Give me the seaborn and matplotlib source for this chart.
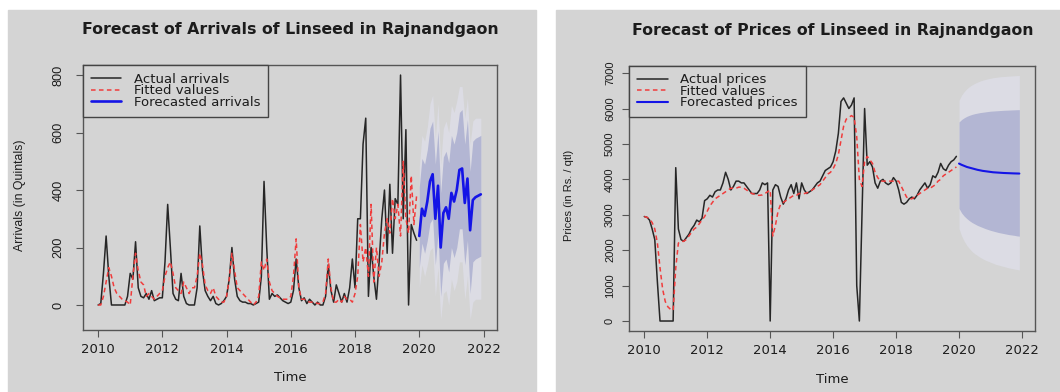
import numpy as np
import matplotlib
matplotlib.use("Agg")
import matplotlib.pyplot as plt
from matplotlib.patches import Rectangle
import seaborn as sns

# ---------------- data ----------------
# monthly series, Jan 2010 .. Dec 2019
start_year = 2010
forecast_start = 2020

arrivals_actual = [
    0, 5, 110, 240, 100, 0, 0, 0, 0, 0, 0, 30,
    110, 90, 220, 60, 30, 25, 40, 20, 50, 15, 20, 25,
    25, 150, 350, 200, 40, 20, 15, 110, 30, 5, 0, 0,
    0, 60, 275, 120, 50, 30, 15, 30, 5, 0, 5, 15,
    30, 90, 200, 90, 30, 15, 10, 10, 5, 5, 0, 5,
    10, 100, 430, 200, 20, 40, 30, 35, 25, 15, 10, 5,
    10, 50, 160, 60, 15, 25, 5, 20, 10, 0, 10, 0,
    0, 30, 140, 50, 10, 70, 40, 10, 40, 10, 60, 160,
    60, 300, 300, 560, 650, 30, 200, 100, 20, 150, 300, 400,
    180, 420, 180, 370, 350, 800, 300, 610, 0, 280, 250, 225,
]
arrivals_fitted = [
    0, 0, 30, 80, 130, 100, 60, 40, 30, 20, 15, 10,
    0, 100, 180, 120, 80, 70, 30, 40, 30, 20, 30, 40,
    50, 100, 130, 150, 110, 60, 50, 40, 80, 60, 40, 60,
    60, 100, 180, 140, 70, 50, 40, 60, 30, 20, 10, 10,
    30, 90, 180, 120, 60, 50, 40, 30, 20, 10, 0, 10,
    30, 150, 120, 160, 80, 50, 40, 30, 25, 20, 20, 20,
    30, 100, 230, 60, 20, 20, 15, 10, 10, 10, 5, 5,
    10, 40, 160, 60, 10, 10, 20, 10, 30, 20, 20, 10,
    40, 100, 280, 150, 200, 100, 350, 80, 200, 100, 150, 250,
    300, 250, 370, 300, 350, 240, 500, 300, 250, 450, 280, 380,
]
# monthly forecast, Jan 2020 .. Dec 2021
arrivals_forecast = [240, 335, 310, 360, 430, 455, 300, 415, 200, 320, 340, 300,
                     390, 360, 400, 470, 475, 355, 440, 260, 365, 375, 380, 385]
arrivals_lo80 = [130, 215, 180, 225, 285, 300, 140, 250, 30, 145, 160, 115,
                 200, 165, 200, 265, 265, 140, 225, 40, 150, 160, 165, 170]
arrivals_hi80 = [410, 510, 490, 540, 615, 640, 490, 605, 390, 515, 535, 495,
                 590, 560, 600, 670, 680, 560, 645, 465, 570, 580, 585, 590]
arrivals_lo95 = [60, 140, 100, 140, 190, 200, 30, 130, -50, 40, 50, 0,
                 90, 50, 80, 150, 150, 20, 100, -50, 10, 20, 20, 20]
arrivals_hi95 = [480, 590, 570, 620, 700, 730, 580, 700, 490, 615, 640, 600,
                 695, 670, 710, 760, 760, 650, 720, 560, 640, 650, 650, 650]

prices_actual = [
    2950, 2930, 2850, 2600, 2300, 1100, 0, 0, 0, 0, 0, 0,
    4330, 2600, 2300, 2250, 2350, 2450, 2600, 2700, 2850, 2800, 2900, 3400,
    3450, 3550, 3500, 3650, 3700, 3700, 3900, 4200, 4000, 3700, 3800, 3950,
    3950, 3900, 3900, 3800, 3700, 3600, 3600, 3600, 3700, 3900, 3850, 3900,
    0, 3700, 3850, 3800, 3500, 3300, 3450, 3700, 3850, 3600, 3900, 3450,
    3900, 3700, 3600, 3650, 3700, 3800, 3900, 3950, 4100, 4250, 4300, 4350,
    4500, 4800, 5300, 6200, 6300, 6150, 6000, 6100, 6300, 1000, 0, 3000,
    6000, 4400, 4500, 4350, 3900, 3750, 3950, 4000, 3900, 3850, 3900, 4050,
    3950, 3700, 3350, 3300, 3350, 3450, 3500, 3450, 3550, 3700, 3800, 3900,
    3750, 3850, 4100, 4050, 4200, 4450, 4300, 4250, 4400, 4500, 4550, 4650,
]
prices_fitted = [
    2950, 2930, 2880, 2780, 2600, 2200, 1500, 900, 550, 400, 330, 300,
    1500, 2200, 2250, 2250, 2300, 2400, 2500, 2600, 2650, 2750, 2850, 2950,
    3100, 3250, 3350, 3450, 3500, 3550, 3600, 3650, 3700, 3750, 3750, 3750,
    3780, 3780, 3750, 3700, 3650, 3600, 3580, 3550, 3550, 3560, 3600, 3650,
    3700, 2400, 2700, 3100, 3300, 3350, 3400, 3450, 3500, 3550, 3550, 3600,
    3600, 3600, 3620, 3650, 3700, 3750, 3800, 3850, 3950, 4050, 4150, 4200,
    4300, 4450, 4700, 5100, 5500, 5700, 5750, 5800, 5750, 5200, 4000, 3800,
    4500, 4650, 4550, 4450, 4200, 4050, 3950, 3950, 3950, 3950, 3950, 3950,
    3950, 3950, 3800, 3650, 3500, 3450, 3450, 3500, 3550, 3600, 3650, 3700,
    3750, 3750, 3800, 3850, 3950, 4000, 4100, 4150, 4200, 4250, 4300, 4350,
]
prices_forecast = [4446, 4410, 4380, 4350, 4330, 4310, 4290, 4270, 4255, 4240, 4230, 4220,
                   4210, 4200, 4195, 4190, 4185, 4180, 4177, 4174, 4171, 4168, 4166, 4164]
prices_lo80 = [3180, 3050, 2960, 2890, 2830, 2780, 2740, 2700, 2670, 2640, 2610, 2585,
               2560, 2540, 2520, 2500, 2485, 2470, 2455, 2440, 2430, 2420, 2405, 2396]
prices_hi80 = [5620, 5690, 5740, 5780, 5810, 5835, 5855, 5870, 5885, 5895, 5905, 5915,
               5925, 5930, 5935, 5940, 5945, 5950, 5953, 5956, 5960, 5963, 5966, 5968]
prices_lo95 = [2610, 2400, 2250, 2130, 2040, 1960, 1900, 1850, 1800, 1760, 1720, 1690,
               1660, 1630, 1600, 1580, 1560, 1540, 1520, 1500, 1485, 1470, 1455, 1440]
prices_hi95 = [6230, 6380, 6480, 6560, 6620, 6670, 6710, 6745, 6775, 6800, 6820, 6840,
               6855, 6870, 6880, 6890, 6900, 6905, 6910, 6915, 6920, 6925, 6930, 6935]

year_ticks = [2010, 2012, 2014, 2016, 2018, 2020, 2022]
arrivals_ticks = [0, 200, 400, 600, 800]
prices_ticks = [0, 1000, 2000, 3000, 4000, 5000, 6000, 7000]

arrivals_labels = ["Actual arrivals", "Fitted values", "Forecasted arrivals"]
prices_labels = ["Actual prices", "Fitted values", "Forecasted prices"]

# ---------------- style ----------------
sns.set_theme(style="ticks")
plt.rcParams["font.family"] = ["DejaVu Sans"]

PANEL = "#d4d4d4"
DARK_BAND = "#b3b6d3"
LIGHT_BAND = "#dcdce4"
BLACK = "#262626"
RED = "#f03c3c"
BLUE = "#1414e6"
FRAME = "#555555"
TEXT = "#1c1c1c"

W, H = 1060, 392
fig = plt.figure(figsize=(W / 100, H / 100), dpi=100)
fig.patch.set_facecolor("white")
fig.add_artist(Rectangle((8 / W, 0), (536 - 8) / W, (H - 10) / H,
                         transform=fig.transFigure, color=PANEL, zorder=0))
fig.add_artist(Rectangle((556 / W, 0), (W - 556) / W, (H - 10) / H,
                         transform=fig.transFigure, color=PANEL, zorder=0))


def px_axes(left, top, right, bottom):
    return fig.add_axes([left / W, 1 - bottom / H, (right - left) / W, (bottom - top) / H])


def draw_panel(ax, actual, fitted, fc, lo80, hi80, lo95, hi95, labels, title,
               ylabel, yticks, ylim, tick_font, label_font, ytick_pad, fc_lw, ylab_x):
    hist_t = start_year + np.arange(len(actual)) / 12
    fc_t = forecast_start + np.arange(len(fc)) / 12

    ax.set_facecolor(PANEL)
    ax.fill_between(fc_t, lo95, hi95, color=LIGHT_BAND, lw=0, zorder=1)
    ax.fill_between(fc_t, lo80, hi80, color=DARK_BAND, lw=0, zorder=1)

    sns.lineplot(x=hist_t, y=actual, ax=ax, color=BLACK, linewidth=1.1,
                 label=labels[0], zorder=3)
    sns.lineplot(x=hist_t, y=fitted, ax=ax, color=RED, linewidth=1.1,
                 linestyle=(0, (3, 2.2)), label=labels[1], zorder=4)
    sns.lineplot(x=fc_t, y=fc, ax=ax, color=BLUE, linewidth=fc_lw,
                 label=labels[2], zorder=5)

    ax.set_xlim(2009.524, 2022.42)
    ax.set_ylim(*ylim)
    ax.set_xticks(year_ticks)
    ax.set_xticklabels([str(y) for y in year_ticks])
    ax.set_yticks(yticks)
    ax.set_yticklabels([str(v) for v in yticks], rotation=90, va="center",
                       family="Liberation Sans", fontsize=tick_font)

    ax.tick_params(axis="both", direction="out", length=4.8, width=0.8,
                   color=FRAME, labelcolor=TEXT)
    ax.tick_params(axis="x", labelsize=9.5, pad=4.3)
    ax.tick_params(axis="y", pad=ytick_pad)
    for sp in ax.spines.values():
        sp.set_visible(True)
        sp.set_color(FRAME)
        sp.set_linewidth(1.0)

    ax.set_title(title, fontsize=11.3, fontweight="bold", color=TEXT,
                 y=1.1008, va="center")
    ax.set_xlabel("Time", fontsize=9.5, color=TEXT)
    ax.xaxis.set_label_coords(0.5, -0.181)
    ax.xaxis.label.set_va("center")
    ax.set_ylabel(ylabel, fontsize=label_font, color=TEXT, family="Liberation Sans")
    ax.yaxis.set_label_coords(ylab_x, 0.51)
    ax.yaxis.label.set_va("center")

    leg = ax.legend(loc="upper left", bbox_to_anchor=(0, 1), borderaxespad=0,
                    frameon=True, fancybox=False, framealpha=1, facecolor=PANEL,
                    edgecolor="#444444", fontsize=9.5, handlelength=2.3,
                    handletextpad=0.95, labelspacing=-0.12, borderpad=0.6)
    leg.get_frame().set_linewidth(1.0)
    for t in leg.get_texts():
        t.set_color(TEXT)
    leg.set_zorder(10)


ax1 = px_axes(82.8, 65, 497, 330)
draw_panel(ax1, arrivals_actual, arrivals_fitted, arrivals_forecast,
           arrivals_lo80, arrivals_hi80, arrivals_lo95, arrivals_hi95,
           arrivals_labels, "Forecast of Arrivals of Linseed in Rajnandgaon",
           "Arrivals (in Quintals)", arrivals_ticks, (-87, 835),
           tick_font=9.2, label_font=8.8, ytick_pad=8.5, fc_lw=1.9, ylab_x=-0.151)

ax2 = px_axes(629.3, 65.5, 1035.2, 331)
draw_panel(ax2, prices_actual, prices_fitted, prices_forecast,
           prices_lo80, prices_hi80, prices_lo95, prices_hi95,
           prices_labels, "Forecast of Prices of Linseed in Rajnandgaon",
           "Prices (in Rs. / qtl)", prices_ticks, (-282, 7215),
           tick_font=8.0, label_font=8.0, ytick_pad=5.5, fc_lw=1.5, ylab_x=-0.149)

fig.savefig("out.png", dpi=100, facecolor="white")
